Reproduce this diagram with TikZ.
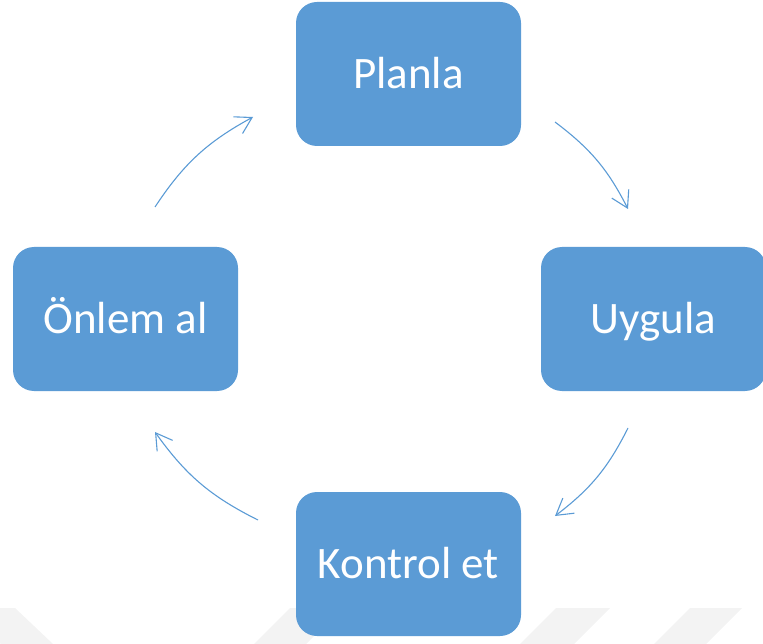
\documentclass[tikz,border=0pt]{standalone}
\usepackage{fontspec}
\setmainfont{Carlito}
\usetikzlibrary{arrows.meta}
\definecolor{boxblue}{HTML}{5B9BD5}
\definecolor{wmgray}{HTML}{F3F3F3}
\tikzset{
  cyclebox/.style={rectangle, rounded corners=21pt, minimum width=225pt, minimum height=144pt,
    fill=boxblue, draw=none, text=white, inner sep=0pt, text height=29pt, text depth=0pt,
    font=\fontsize{45}{54}\selectfont},
  cyclearrow/.style={draw=boxblue, line width=1.1pt, -{Straight Barb[length=16pt,width=19pt]}},
  wmstripe/.style={fill=wmgray, draw=none}
}
\begin{document}
\begin{tikzpicture}[x=1pt,y=-1pt]
\useasboundingbox (0,0) rectangle (763,644);
\clip (0,0) rectangle (763,644);
% faint watermark stripes
\fill[wmstripe] (-37,608) -- (15,608) -- (53,644) -- (1,644) -- cycle;
\fill[wmstripe] (556,608) -- (610,608) -- (574,644) -- (520,644) -- cycle;
\fill[wmstripe] (690,608) -- (742,608) -- (706,644) -- (654,644) -- cycle;
\fill[wmstripe] (290,608) -- (342,608) -- (306,644) -- (254,644) -- cycle;
% boxes
\node[cyclebox] (plan) at (408.5,74) {Planla};
\node[cyclebox] (uyg) at (653.5,319) {Uygula};
\node[cyclebox] (kon) at (408.5,564) {Kontrol et};
\node[cyclebox] (onl) at (125.5,319) {Önlem al};
% arrow end points
\coordinate (a1s) at (555,122);
\coordinate (a1e) at (628,209);
\coordinate (a2s) at (628,428);
\coordinate (a2e) at (555,516);
\coordinate (a3s) at (258,520);
\coordinate (a3e) at (155,432);
\coordinate (a4s) at (155,207);
\coordinate (a4e) at (253,117);
\draw[cyclearrow] (a1s) to[bend left=13] (a1e);
\draw[cyclearrow] (a2s) to[bend left=13] (a2e);
\draw[cyclearrow] (a3s) to[bend left=14] (a3e);
\draw[cyclearrow] (a4s) to[bend left=14] (a4e);
\end{tikzpicture}
\end{document}
